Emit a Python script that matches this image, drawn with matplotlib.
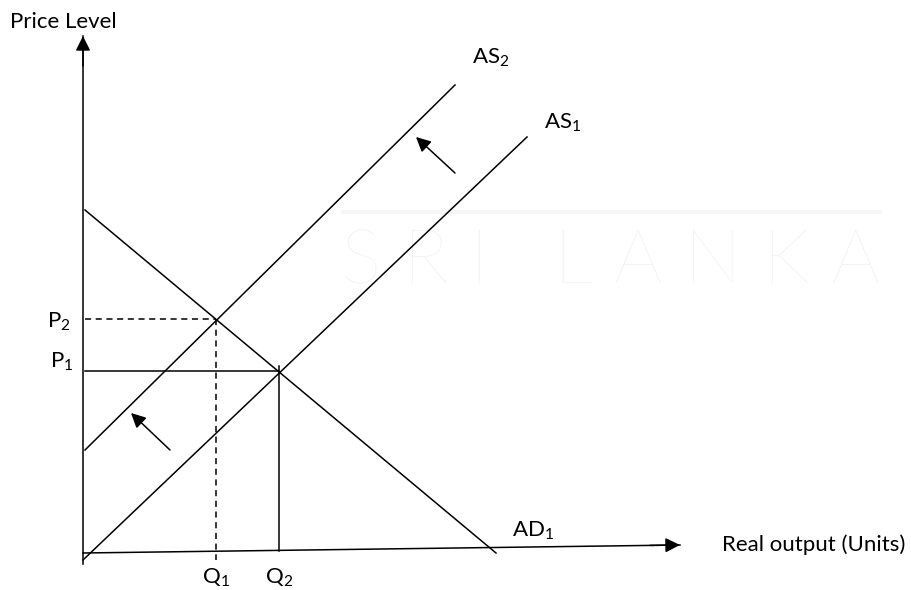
import numpy as np
import matplotlib.pyplot as plt

plt.rcParams['font.family'] = ['Lato', 'DejaVu Sans']
plt.rcParams['mathtext.fontset'] = 'custom'
plt.rcParams['mathtext.rm'] = 'Lato'

# diagram coordinates (origin at the corner of the axes)
ad1_x = [2, 413]
ad1_y = [343, 0]
as1_x = [0, 444]
as1_y = [-7, 416]
as2_x = [2, 372]
as2_y = [103, 468]

# equilibrium points
q1, p2 = 133, 234
q2, p1 = 196, 182

# axes
yaxis_x = [0, 0]
yaxis_y = [-11, 517]
xaxis_x = [0, 597]
xaxis_y = [0, 8]

# shift arrows (tail, head)
shift_up = [(372, 380), (333, 416)]
shift_low = [(87, 103), (48, 140)]

fig = plt.figure(figsize=(9.12, 5.90), dpi=100)
ax = fig.add_axes([0, 0, 1, 1])
ax.set_xlim(-83, 829)
ax.set_ylim(-37, 553)
ax.axis('off')

# faint watermark
ax.plot([260, 797], [341, 341], color='#f6f6f6', lw=3, zorder=0)
ax.text(528, 290, 'S R I   L A N K A', color='#f1f1f1', fontsize=55,
        fontweight='light', ha='center', va='center', zorder=0)

lw = 1.1
ax.plot(yaxis_x, yaxis_y, color='black', lw=lw)
ax.plot(xaxis_x, xaxis_y, color='black', lw=lw)
head = dict(arrowstyle='-|>', mutation_scale=22, lw=lw, color='black',
            shrinkA=0, shrinkB=0)
ax.annotate('', xy=(0, yaxis_y[1]), xytext=(0, yaxis_y[1] - 30), arrowprops=head)
ax.annotate('', xy=(xaxis_x[1], xaxis_y[1]),
            xytext=(xaxis_x[1] - 30, xaxis_y[1] - 0.4), arrowprops=head)

ax.plot(ad1_x, ad1_y, color='black', lw=lw)
ax.plot(as1_x, as1_y, color='black', lw=lw)
ax.plot(as2_x, as2_y, color='black', lw=lw)

# P2 / Q1 dashed
ax.plot([2, q1], [p2, p2], color='black', lw=lw, ls=(0, (4, 3)))
ax.plot([q1, q1], [p2, -7], color='black', lw=lw, ls=(0, (4, 3)))
# P1 / Q2 solid
ax.plot([2, q2], [p1, p1], color='black', lw=lw)
ax.plot([q2, q2], [p1 + 5, 2], color='black', lw=lw)

for tail, tip in [shift_up, shift_low]:
    ax.annotate('', xy=tip, xytext=tail, arrowprops=head)

fs = 16
ax.text(-73, 531, 'Price Level', fontsize=fs, ha='left', va='center')
ax.text(-12, 231, r'P$_\mathregular{2}$', fontsize=fs, ha='right', va='center')
ax.text(-10, 191, r'P$_\mathregular{1}$', fontsize=fs, ha='right', va='center')
ax.text(q1, -25, r'Q$_\mathregular{1}$', fontsize=fs, ha='center', va='center')
ax.text(q2, -25, r'Q$_\mathregular{2}$', fontsize=fs, ha='center', va='center')
ax.text(389, 495, r'AS$_\mathregular{2}$', fontsize=fs, ha='left', va='center')
ax.text(461, 430, r'AS$_\mathregular{1}$', fontsize=fs, ha='left', va='center')
ax.text(429, 22, r'AD$_\mathregular{1}$', fontsize=fs, ha='left', va='center')
ax.text(639, 8, 'Real output (Units)', fontsize=fs, ha='left', va='center')

plt.savefig('out.png', dpi=100)
